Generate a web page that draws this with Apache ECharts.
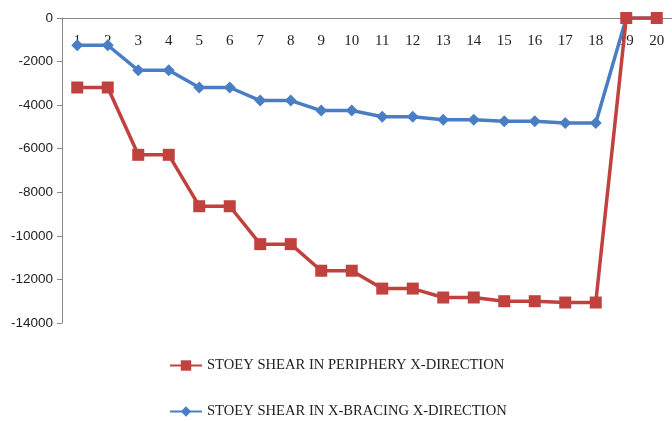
<!DOCTYPE html>
<html>
<head>
<meta charset="utf-8">
<script src="https://cdn.jsdelivr.net/npm/echarts@6/dist/echarts.min.js"></script>
<style>html,body{margin:0;padding:0;background:#fff}#c{width:672px;height:421px}</style>
</head>
<body>
<div id="c"></div>
<script>
var categories = ['1','2','3','4','5','6','7','8','9','10','11','12','13','14','15','16','17','18','19','20'];
var periphery = [-3190,-3190,-6280,-6280,-8640,-8640,-10380,-10380,-11600,-11600,-12420,-12420,-12830,-12830,-13000,-13000,-13060,-13060,0,0];
var bracing = [-1250,-1250,-2400,-2400,-3190,-3190,-3790,-3790,-4250,-4250,-4530,-4530,-4670,-4670,-4740,-4740,-4820,-4820,0,0];
var nameP = 'STOEY SHEAR IN PERIPHERY X-DIRECTION';
var nameB = 'STOEY SHEAR IN X-BRACING X-DIRECTION';

var legendText = { fontFamily: 'Liberation Serif', fontSize: 14.6, color: '#222' };
var chart = echarts.init(document.getElementById('c'));
chart.setOption({
  animation: false,
  backgroundColor: '#fff',
  grid: { left: 62, right: -4, top: 18, bottom: 98, containLabel: false },
  legend: [
    { data: [nameP], left: 164, top: 353, itemWidth: 32, itemHeight: 13, itemGap: 4, textStyle: legendText },
    { data: [nameB], left: 164, top: 399, itemWidth: 32, itemHeight: 13, itemGap: 4, textStyle: legendText }
  ],
  xAxis: {
    type: 'category',
    data: categories,
    position: 'top',
    boundaryGap: true,
    axisLine: { lineStyle: { color: '#888', width: 1 } },
    axisTick: { inside: true, length: 5, lineStyle: { color: '#888' } },
    axisLabel: { inside: true, margin: 16, interval: 0, fontFamily: 'Liberation Serif', fontSize: 15, color: '#222', verticalAlign: 'top' }
  },
  yAxis: {
    type: 'value',
    min: -14000, max: 0, interval: 2000,
    axisLine: { show: true, lineStyle: { color: '#888', width: 1 } },
    axisTick: { show: true, length: 5, lineStyle: { color: '#888' } },
    splitLine: { show: false },
    axisLabel: { margin: 9, fontFamily: 'Liberation Sans', fontSize: 13.5, color: '#222', formatter: function (v) { return String(v); } }
  },
  series: [
    {
      name: nameB, type: 'line', data: bracing,
      symbol: 'diamond', symbolSize: 12,
      itemStyle: { color: '#4A7EC4' },
      lineStyle: { color: '#4A7EC4', width: 3.5 }
    },
    {
      name: nameP, type: 'line', data: periphery,
      symbol: 'rect', symbolSize: 12,
      itemStyle: { color: '#C0413E' },
      lineStyle: { color: '#C0413E', width: 3.5 }
    }
  ]
});
</script>
</body>
</html>
